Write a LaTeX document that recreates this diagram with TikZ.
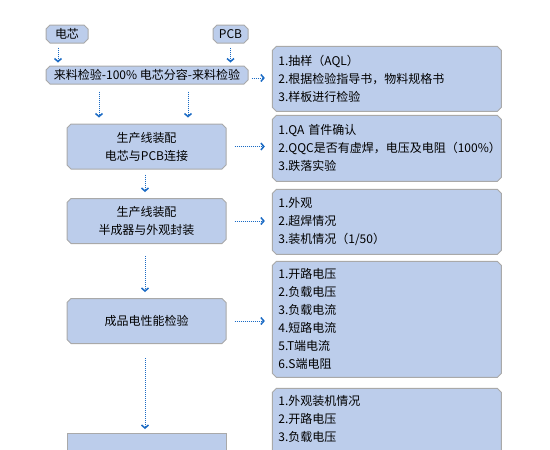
\documentclass[tikz,border=0pt]{standalone}
\usepackage{fontspec}
\setmainfont{Noto Sans CJK SC}
\usetikzlibrary{shapes.misc,arrows.meta}
\definecolor{boxfill}{HTML}{BCCDEB}
\definecolor{boxline}{HTML}{A9A9A9}
\definecolor{flow}{HTML}{1A6AC4}
\tikzset{
  box/.style={chamfered rectangle, chamfered rectangle xsep=2pt, chamfered rectangle ysep=2pt, draw=boxline, line width=1pt, fill=boxfill, inner sep=0pt, font=\fontsize{12}{18}\selectfont},
  stage/.style={box, minimum width=159pt, minimum height=45pt, align=center},
  note/.style={box, anchor=north west, minimum width=225pt, inner xsep=4pt, text width=217pt, align=left},
  flowline/.style={flow, line width=1pt, dash pattern=on 1pt off 1pt, -{Straight Barb[length=3pt,width=7pt,line width=1.5pt]}}
}
\begin{document}
\begin{tikzpicture}[x=1pt,y=-1pt]
\pgfmathsetmacro{\L}{146.5}
\pgfmathsetmacro{\R}{274}
\useasboundingbox (0,0) rectangle (550,450);
\clip (0,0) rectangle (550,450);
\node[box, minimum width=42pt, minimum height=18pt] (cell) at (67,34) {电芯};
\node[box, minimum width=35pt, minimum height=18pt] (pcb) at (230.5,34) {PCB};
\node[box, minimum width=202pt, minimum height=18pt] (check) at (147,75) {来料检验-100\% 电芯分容-来料检验};
\node[stage] (asm1) at (\L,146.5) {生产线装配\\电芯与PCB连接};
\node[stage] (asm2) at (\L,221) {生产线装配\\半成器与外观封装};
\node[stage] (test) at (\L,321) {成品电性能检验};
\node[stage, anchor=north] (pack) at (\L,433) {};
\node[note, minimum height=65pt] (r1) at (\R,48) {1.抽样（AQL）\\2.根据检验指导书，物料规格书\\3.样板进行检验};
\node[note, minimum height=66pt] (r2) at (\R,117) {1.QA 首件确认\\2.QQC是否有虚焊，电压及电阻（100\%）\\3.跌落实验};
\node[note, minimum height=65pt] (r3) at (\R,191) {1.外观\\2.超焊情况\\3.装机情况（1/50）};
\node[note, minimum height=116pt] (r4) at (\R,263) {1.开路电压\\2.负载电压\\3.负载电流\\4.短路电流\\5.T端电流\\6.S端电阻};
\node[note, text height=15pt, text depth=70pt] (r5) at (\R,390) {1.外观装机情况\\2.开路电压\\3.负载电压};
\draw[flowline, shorten <=4pt, shorten >=3pt] ([xshift=-9pt]cell.south) -- ([xshift=-9pt]cell.south |- check.north);
\draw[flowline, shorten <=4pt, shorten >=3pt] (pcb.south) -- (pcb.south |- check.north);
\draw[flowline, shorten <=3pt, shorten >=7pt] ([yshift=-3pt]check.east) -- ([yshift=-3pt]check.east -| r1.west);
\draw[flowline, shorten <=7pt, shorten >=6pt] ([xshift=-48pt]check.south) -- ([xshift=-48pt]check.south |- asm1.north);
\draw[flowline, shorten <=7pt, shorten >=6pt] ([xshift=41pt]check.south) -- ([xshift=41pt]check.south |- asm1.north);
\draw[flowline, shorten <=5pt, shorten >=6pt] ([xshift=-1.5pt]asm1.south) -- ([xshift=-1.5pt]asm2.north);
\draw[flowline, shorten <=12pt, shorten >=6pt] ([xshift=-1.5pt]asm2.south) -- ([xshift=-1.5pt]test.north);
\draw[flowline, shorten <=14pt, shorten >=4pt] ([xshift=-1.5pt]test.south) -- ([xshift=-1.5pt]pack.north);
\draw[flowline, shorten <=8pt, shorten >=7pt] (asm1.east) -- (asm1.east -| r2.west);
\draw[flowline, shorten <=8pt, shorten >=7pt] (asm2.east) -- (asm2.east -| r3.west);
\draw[flowline, shorten <=8pt, shorten >=7pt] (test.east) -- (test.east -| r4.west);
\end{tikzpicture}
\end{document}
